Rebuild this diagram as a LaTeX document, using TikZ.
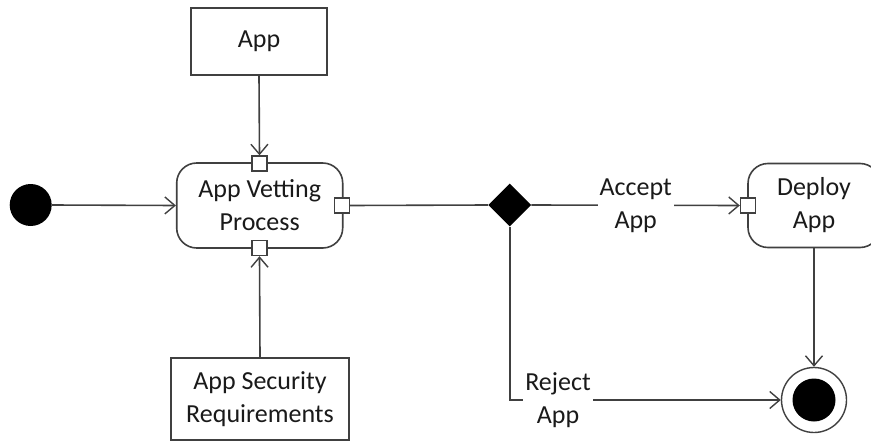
\documentclass[tikz,border=0pt]{standalone}
\usepackage{fontspec}
\setmainfont{Carlito}
\usetikzlibrary{arrows.meta,shapes.geometric}
\definecolor{linegray}{HTML}{404040}
\definecolor{txt}{HTML}{1A1A1A}
\tikzset{
  base/.style={font=\fontsize{26}{33}\selectfont, text=txt, align=center},
  objbox/.style={base, draw=linegray, line width=1.6pt, fill=white, rectangle},
  actbox/.style={base, draw=linegray, line width=1.6pt, fill=white, rectangle, rounded corners=20pt},
  pin/.style={draw=linegray, line width=1.4pt, fill=white, rectangle, minimum size=15pt, inner sep=0pt},
  conn/.style={draw=linegray, line width=1.6pt},
  arr/.style={conn, -{Straight Barb[length=10pt,width=17pt,line width=1.4pt]}},
  lbl/.style={base, fill=white, inner sep=2pt},
}
\begin{document}
\begin{tikzpicture}[x=1pt,y=-1pt]
\useasboundingbox (0,0) rectangle (871,442);
% nodes
\node[circle, fill=black, minimum size=42pt, inner sep=0pt] (init) at (30.7,205) {};
\node[objbox, minimum width=136pt, minimum height=67pt] (app) at (259,41.5) {App};
\node[actbox, minimum width=166pt, minimum height=85pt] (avp) at (259.7,205.5) {App Vetting\\Process};
\node[objbox, minimum width=178pt, minimum height=82pt] (asr) at (260,399) {App Security\\Requirements};
\node[pin] (pintop) at (259.5,163.5) {};
\node[pin] (pinbot) at (259.5,248) {};
\node[pin] (pinright) at (342,205.5) {};
\node[diamond, aspect=1, fill=black, minimum size=43pt, inner sep=0pt] (dec) at (509.7,205) {};
\node[actbox, minimum width=132pt, minimum height=84pt] (deploy) at (814,205.5) {Deploy\\App};
\node[pin] (pindep) at (748,205.5) {};
\node[circle, draw=linegray, line width=1.4pt, fill=white, minimum size=65pt, inner sep=0pt] (final) at (814,400) {};
\node[circle, fill=black, minimum size=43pt, inner sep=0pt] (finalin) at (final.center) {};
% connectors
\draw[arr] (init.east) -- (avp.west);
\draw[arr] (app.south) -- (pintop.north);
\draw[arr] (asr.north) -- (pinbot.south);
\draw[conn] (pinright.east) -- (dec.west);
\draw[arr] (dec.east) -- (pindep.west);
\draw[arr] (dec.south) |- (final.west);
\draw[arr] (deploy.south) -- (final.north);
% labels
\node[lbl] (acc) at (635.7,205.5) {Accept\\App};
\node[lbl] (rej) at (558,400) {Reject\\App};
\end{tikzpicture}
\end{document}
